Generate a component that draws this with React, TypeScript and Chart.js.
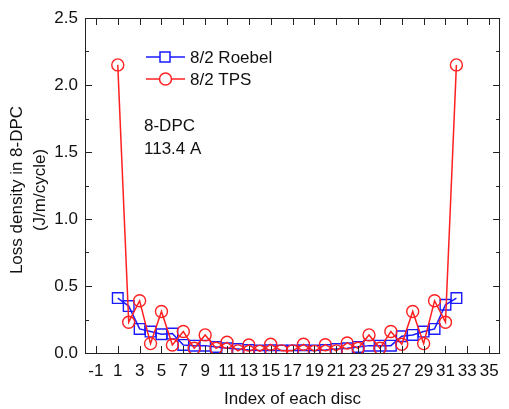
import React, { useEffect, useRef } from "react";
import { Chart, registerables } from "chart.js";

Chart.register(...registerables);

const discIndex: number[] = Array.from({ length: 32 }, (_, i) => i + 1);
const roebel: number[] = [0.41, 0.35, 0.18, 0.16, 0.14, 0.145, 0.06, 0.055, 0.055, 0.045, 0.035, 0.03, 0.022, 0.018, 0.02, 0.018, 0.018, 0.02, 0.018, 0.022, 0.03, 0.035, 0.045, 0.055, 0.055, 0.055, 0.125, 0.135, 0.16, 0.18, 0.36, 0.41];
const tps: number[] = [2.15, 0.23, 0.39, 0.07, 0.31, 0.06, 0.16, 0.035, 0.135, 0.035, 0.08, 0.016, 0.06, 0.012, 0.065, 0.016, 0.016, 0.065, 0.012, 0.062, 0.016, 0.075, 0.035, 0.135, 0.035, 0.16, 0.065, 0.31, 0.07, 0.39, 0.23, 2.15];
const xTicks: number[] = [-1, 1, 3, 5, 7, 9, 11, 13, 15, 17, 19, 21, 23, 25, 27, 29, 31, 33, 35];
const yTicks: number[] = [0, 0.5, 1.0, 1.5, 2.0, 2.5];
const seriesNames: string[] = ["8/2 Roebel", "8/2 TPS"];
const noteLines: string[] = ["8-DPC", "113.4 A"];
const yTitleLines: string[] = ["Loss density in 8-DPC", "(J/m/cycle)"];
const xTitle = "Index of each disc";

const FONT = 'Arial, "Liberation Sans", sans-serif';
const FS = 17;
const BLUE = "#1a1aff";
const RED = "#ff2020";

export default function App() {
  const ref = useRef<HTMLCanvasElement | null>(null);
  useEffect(() => {
    if (!ref.current) return;
    const decor = {
      id: "decor",
      afterDraw(chart: any) {
        const ctx = chart.ctx as CanvasRenderingContext2D;
        const a = chart.chartArea;
        const xs = chart.scales.x;
        const ys = chart.scales.y;
        ctx.save();
        ctx.strokeStyle = "#222";
        ctx.lineWidth = 1;
        ctx.strokeRect(Math.round(a.left) + 0.5, Math.round(a.top) + 0.5, Math.round(a.right - a.left) - 1, Math.round(a.bottom - a.top));
        ctx.beginPath();
        const maj = 7;
        const min = 4;
        for (const t of xTicks) {
          const px = Math.round(xs.getPixelForValue(t)) + 0.5;
          ctx.moveTo(px, a.bottom);
          ctx.lineTo(px, a.bottom - maj);
          ctx.moveTo(px, a.top);
          ctx.lineTo(px, a.top + maj);
        }
        for (let v = 0; v <= 2.5001; v += 0.25) {
          const py = Math.round(ys.getPixelForValue(v)) + 0.5;
          const isMaj = Math.abs(v * 2 - Math.round(v * 2)) < 1e-6;
          const L = isMaj ? maj : min;
          ctx.moveTo(a.left, py);
          ctx.lineTo(a.left + L, py);
          ctx.moveTo(a.right, py);
          ctx.lineTo(a.right - L, py);
        }
        ctx.stroke();

        ctx.font = `${FS}px ${FONT}`;
        ctx.textBaseline = "middle";
        ctx.textAlign = "left";
        const legY = [57, 79];
        const cols = [BLUE, RED];
        for (let i = 0; i < 2; i++) {
          ctx.strokeStyle = cols[i];
          ctx.lineWidth = 1.5;
          ctx.beginPath();
          ctx.moveTo(146, legY[i]);
          ctx.lineTo(185, legY[i]);
          ctx.stroke();
          ctx.beginPath();
          if (i === 0) {
            ctx.rect(160, legY[i] - 5, 10, 10);
          } else {
            ctx.arc(165.5, legY[i], 6, 0, Math.PI * 2);
          }
          ctx.fillStyle = "#fff";
          ctx.fill();
          ctx.stroke();
          ctx.fillStyle = "#111";
          ctx.fillText(seriesNames[i], 190, legY[i] + 1);
        }
        ctx.fillStyle = "#111";
        ctx.fillText(noteLines[0], 144, 126);
        ctx.fillText(noteLines[1], 144, 149);

        ctx.textAlign = "center";
        ctx.fillText(xTitle, (a.left + a.right) / 2, 399);

        ctx.save();
        ctx.translate(17, 190);
        ctx.rotate(-Math.PI / 2);
        ctx.fillText(yTitleLines[0], 0, 0);
        ctx.restore();
        ctx.save();
        ctx.translate(40, 190);
        ctx.rotate(-Math.PI / 2);
        ctx.fillText(yTitleLines[1], 0, 0);
        ctx.restore();
        ctx.restore();
      },
    };

    const chart = new Chart(ref.current, {
      type: "line",
      data: {
        datasets: [
          {
            label: seriesNames[0],
            data: discIndex.map((x, i) => ({ x, y: roebel[i] })),
            borderColor: BLUE,
            backgroundColor: "rgba(0,0,0,0)",
            borderWidth: 1.5,
            pointStyle: "rect",
            pointRadius: 7.5,
            pointBorderWidth: 1.4,
            pointBorderColor: BLUE,
            pointBackgroundColor: "rgba(0,0,0,0)",
            tension: 0,
            order: 2,
          },
          {
            label: seriesNames[1],
            data: discIndex.map((x, i) => ({ x, y: tps[i] })),
            borderColor: RED,
            backgroundColor: "rgba(0,0,0,0)",
            borderWidth: 1.5,
            pointStyle: "circle",
            pointRadius: 6,
            pointBorderWidth: 1.4,
            pointBorderColor: RED,
            pointBackgroundColor: "rgba(0,0,0,0)",
            tension: 0,
            order: 1,
          },
        ],
      },
      options: {
        animation: false,
        responsive: false,
        events: [],
        layout: { padding: { top: 18, right: 1, left: 0, bottom: 0 } },
        plugins: { legend: { display: false }, tooltip: { enabled: false }, title: { display: false } },
        scales: {
          x: {
            type: "linear",
            min: -2,
            max: 36,
            grid: { display: false, drawTicks: false },
            border: { display: false },
            afterBuildTicks: (s: any) => {
              s.ticks = xTicks.map((v) => ({ value: v }));
            },
            afterFit: (s: any) => {
              s.height = 56;
            },
            ticks: {
              autoSkip: false,
              maxRotation: 0,
              padding: 8,
              color: "#111",
              font: { family: FONT, size: FS },
              callback: (v: any) => String(v),
            },
          },
          y: {
            type: "linear",
            min: 0,
            max: 2.5,
            grid: { display: false, drawTicks: false },
            border: { display: false },
            afterBuildTicks: (s: any) => {
              s.ticks = yTicks.map((v) => ({ value: v }));
            },
            afterFit: (s: any) => {
              s.width = 85;
            },
            ticks: {
              padding: 7,
              color: "#111",
              font: { family: FONT, size: FS },
              callback: (v: any) => Number(v).toFixed(1),
            },
          },
        },
      },
      plugins: [decor],
    });
    return () => chart.destroy();
  }, []);

  return (
    <div style={{ position: "fixed", left: 0, top: 0, width: 509, height: 409, background: "#fff" }}>
      <canvas ref={ref} width={509} height={409} style={{ width: 509, height: 409, display: "block" }} />
    </div>
  );
}
